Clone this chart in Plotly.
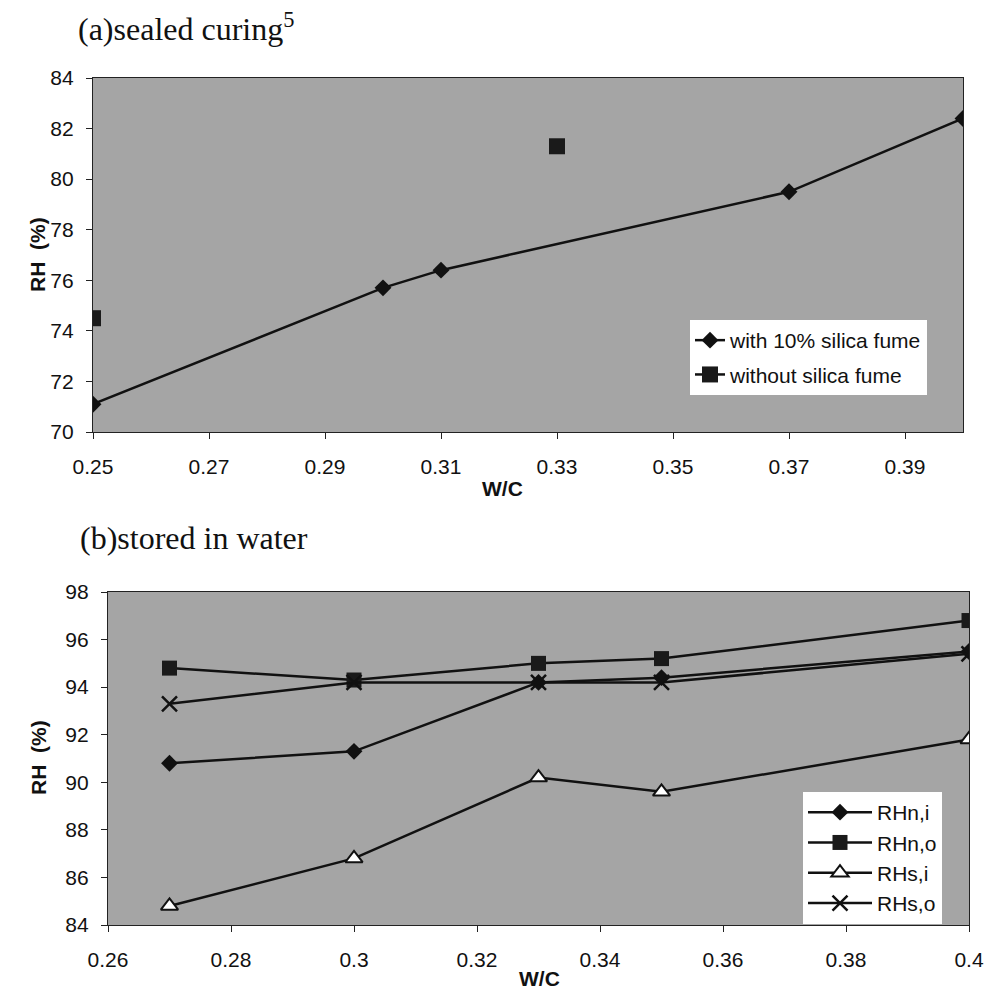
import plotly.graph_objects as go

# ---------- data: (a) sealed curing ----------
wc_a_sf = [0.25, 0.30, 0.31, 0.37, 0.40]
rh_a_sf = [71.1, 75.7, 76.4, 79.5, 82.4]
wc_a_nosf = [0.25, None, 0.33]
rh_a_nosf = [74.5, None, 81.3]
names_a = ["with 10% silica fume", "without silica fume"]
xticks_a = [0.25, 0.27, 0.29, 0.31, 0.33, 0.35, 0.37, 0.39]
xticklabels_a = ["0.25", "0.27", "0.29", "0.31", "0.33", "0.35", "0.37", "0.39"]
yticks_a = [70, 72, 74, 76, 78, 80, 82, 84]

# ---------- data: (b) stored in water ----------
wc_b = [0.27, 0.30, 0.33, 0.35, 0.40]
rh_n_i = [90.8, 91.3, 94.2, 94.4, 95.5]
rh_n_o = [94.8, 94.3, 95.0, 95.2, 96.8]
rh_s_i = [84.8, 86.8, 90.2, 89.6, 91.8]
rh_s_o = [93.3, 94.2, 94.2, 94.2, 95.4]
names_b = ["RHn,i", "RHn,o", "RHs,i", "RHs,o"]
xticks_b = [0.26, 0.28, 0.30, 0.32, 0.34, 0.36, 0.38, 0.40]
xticklabels_b = ["0.26", "0.28", "0.3", "0.32", "0.34", "0.36", "0.38", "0.4"]
yticks_b = [84, 86, 88, 90, 92, 94, 96, 98]

W, H = 985, 993
SANS = "Liberation Sans, Arial, sans-serif"
SERIF = "Liberation Serif, Times New Roman, serif"
INK = "#111111"
LW = 2.5

fig = go.Figure()

# (a)
fig.add_trace(go.Scatter(x=wc_a_sf, y=rh_a_sf, name=names_a[0], mode="lines+markers",
                         line=dict(color=INK, width=LW),
                         marker=dict(symbol="diamond", size=13, color=INK),
                         xaxis="x", yaxis="y", legend="legend", legendgroup="a1"))
fig.add_trace(go.Scatter(x=wc_a_nosf, y=rh_a_nosf, name=names_a[1], mode="lines+markers",
                         connectgaps=False,
                         line=dict(color=INK, width=LW),
                         marker=dict(symbol="square", size=16, color="#1a1a1a"),
                         xaxis="x", yaxis="y", legend="legend", legendgroup="a2"))

# (b)
fig.add_trace(go.Scatter(x=wc_b, y=rh_n_i, name=names_b[0], mode="lines+markers",
                         line=dict(color=INK, width=LW),
                         marker=dict(symbol="diamond", size=13, color=INK),
                         xaxis="x2", yaxis="y2", legend="legend2"))
fig.add_trace(go.Scatter(x=wc_b, y=rh_n_o, name=names_b[1], mode="lines+markers",
                         line=dict(color=INK, width=LW),
                         marker=dict(symbol="square", size=15, color="#1a1a1a"),
                         xaxis="x2", yaxis="y2", legend="legend2"))
fig.add_trace(go.Scatter(x=wc_b, y=rh_s_i, name=names_b[2], mode="lines+markers",
                         line=dict(color=INK, width=LW),
                         marker=dict(symbol="triangle-up", size=15, color="white",
                                     line=dict(color=INK, width=2)),
                         xaxis="x2", yaxis="y2", legend="legend2"))
fig.add_trace(go.Scatter(x=wc_b, y=rh_s_o, name=names_b[3], mode="lines+markers",
                         line=dict(color=INK, width=LW),
                         marker=dict(symbol="x-thin", size=15, color=INK,
                                     line=dict(color=INK, width=2.5)),
                         xaxis="x2", yaxis="y2", legend="legend2"))

tickfont = dict(family=SANS, size=21, color=INK)
axis_common = dict(showgrid=False, zeroline=False, showline=True, linecolor="#222222",
                   linewidth=1.2, mirror=True, ticks="outside", ticklen=6, tickwidth=1,
                   tickcolor="#222222", tickfont=tickfont, automargin=False)

fig.update_layout(
    width=W, height=H,
    margin=dict(l=0, r=0, t=0, b=0, autoexpand=False),
    paper_bgcolor="white",
    plot_bgcolor="#a5a5a5",
    showlegend=True,
    xaxis=dict(domain=[93 / W, 963 / W], range=[0.25, 0.40], tickmode="array",
               tickvals=xticks_a, ticktext=xticklabels_a, anchor="y",
               ticklabelstandoff=10, **axis_common),
    yaxis=dict(domain=[1 - 432 / H, 1 - 78 / H], range=[70, 84], tickmode="array",
               tickvals=yticks_a, anchor="x", ticklabelstandoff=8, **axis_common),
    xaxis2=dict(domain=[108 / W, 969 / W], range=[0.26, 0.40], tickmode="array",
                tickvals=xticks_b, ticktext=xticklabels_b, anchor="y2",
                ticklabelstandoff=10, **axis_common),
    yaxis2=dict(domain=[1 - 925 / H, 1 - 592 / H], range=[84, 98], tickmode="array",
                tickvals=yticks_b, anchor="x2", ticklabelstandoff=8, **axis_common),
    legend=dict(x=690 / W, y=1 - 320 / H, xanchor="left", yanchor="top",
                bgcolor="white", borderwidth=0, tracegroupgap=4,
                traceorder="grouped",
                font=dict(family=SANS, size=21, color=INK)),
    legend2=dict(x=803 / W, y=1 - 792 / H, xanchor="left", yanchor="top",
                 bgcolor="white", borderwidth=0, itemwidth=64,
                 font=dict(family=SANS, size=21, color=INK)),
)

ann_common = dict(xref="paper", yref="paper", showarrow=False)
fig.add_annotation(text="(a)sealed curing<sup>5</sup>", x=76 / W, y=1 - 27 / H,
                   xanchor="left", yanchor="middle",
                   font=dict(family=SERIF, size=32, color=INK), **ann_common)
fig.add_annotation(text="(b)stored in water", x=78 / W, y=1 - 538 / H,
                   xanchor="left", yanchor="middle",
                   font=dict(family=SERIF, size=32, color=INK), **ann_common)
fig.add_annotation(text="<b>RH\u00a0\u00a0(%)</b>", x=38 / W, y=1 - 255 / H, textangle=-90,
                   xanchor="center", yanchor="middle",
                   font=dict(family=SANS, size=21, color=INK), **ann_common)
fig.add_annotation(text="<b>RH\u00a0\u00a0(%)</b>", x=38 / W, y=1 - 758 / H, textangle=-90,
                   xanchor="center", yanchor="middle",
                   font=dict(family=SANS, size=21, color=INK), **ann_common)
fig.add_annotation(text="<b>W/C</b>", x=502 / W, y=1 - 488 / H,
                   xanchor="center", yanchor="middle",
                   font=dict(family=SANS, size=21, color=INK), **ann_common)
fig.add_annotation(text="<b>W/C</b>", x=539 / W, y=1 - 978 / H,
                   xanchor="center", yanchor="middle",
                   font=dict(family=SANS, size=21, color=INK), **ann_common)

fig.write_html("out.html",
               config={"displayModeBar": False},
               post_script="document.body.style.margin='0px';"
                           "document.body.style.overflow='hidden';")
